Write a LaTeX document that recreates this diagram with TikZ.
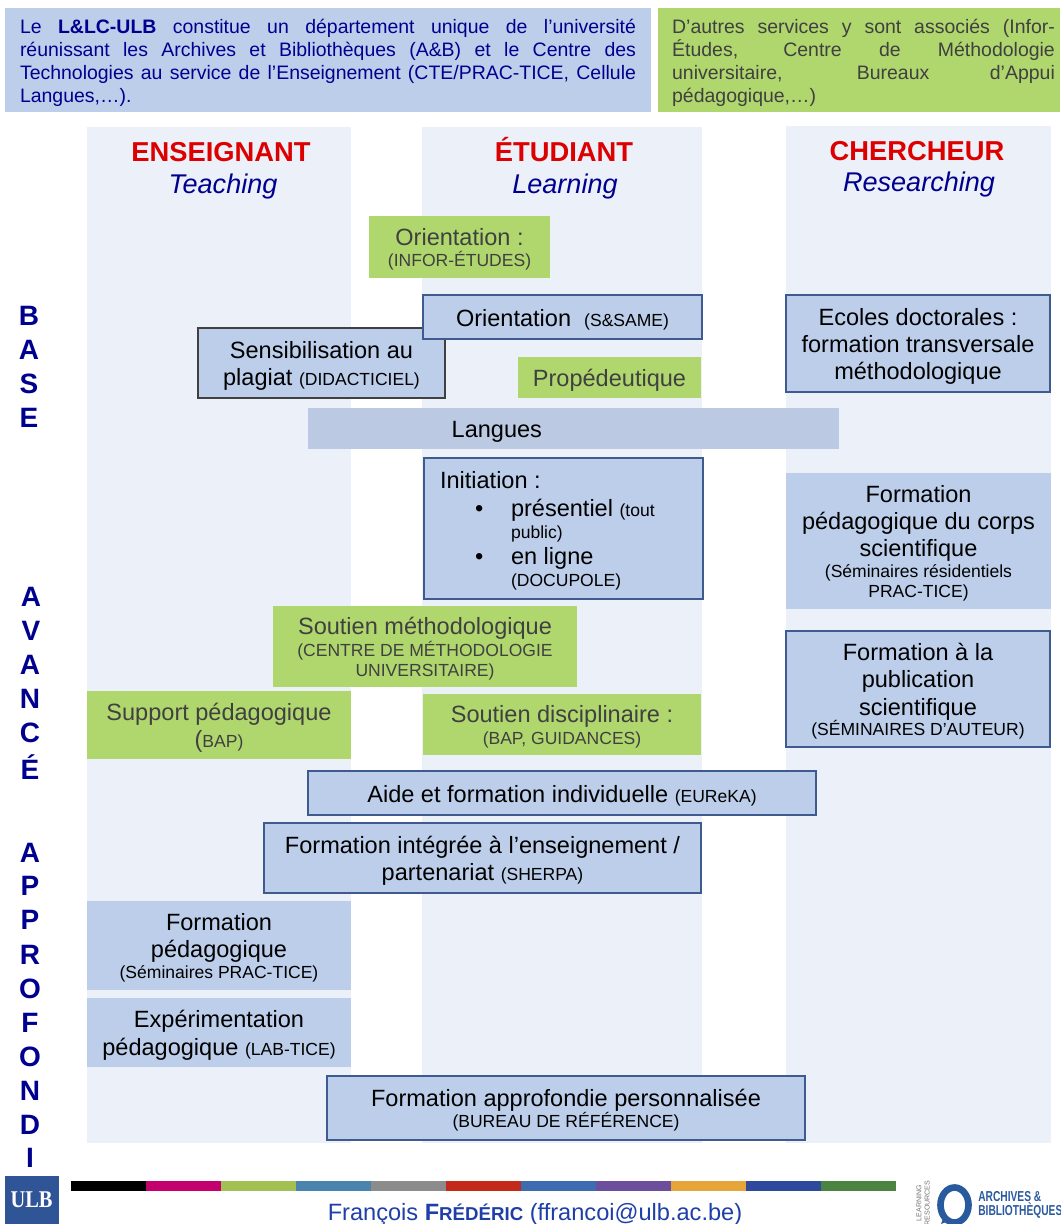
\documentclass[tikz,border=0pt]{standalone}
\usepackage{fontspec}
\usepackage{graphicx}
\setmainfont{Liberation Sans}
\newfontfamily\narrowsans[FakeStretch=0.71]{Liberation Sans}
\newfontfamily\narrowserif[FakeStretch=0.85]{Liberation Serif}
\definecolor{colbg}{HTML}{ECF0F8}
\definecolor{bluefill}{HTML}{BCCEEA}
\definecolor{langfill}{HTML}{BBCAE2}
\definecolor{greenfill}{HTML}{B0D66E}
\definecolor{edgeblue}{HTML}{3F5A8F}
\definecolor{navy}{HTML}{00008F}
\definecolor{headred}{HTML}{DD0000}
\definecolor{greytext}{HTML}{404040}
\definecolor{footblue}{HTML}{1F3FA8}
\definecolor{logoblue}{HTML}{2A5A9E}
\definecolor{ulbblue}{HTML}{2F5597}
\newcommand\bigf{\fontsize{17.65}{20.4}\selectfont}
\newcommand\smf[1]{{\fontsize{13.15}{15}\selectfont #1}}
\newcommand\jl[2]{\hbox to #1{#2}}
\newcommand\bx[7]{%
  \pgfmathsetmacro\bxw{(#5-#3)*0.75}%
  \pgfmathsetmacro\bxh{(#6-#4)*0.75}%
  \node[#1,minimum width=\bxw pt,minimum height=\bxh pt] (#2) at ({(#3+#5)/2},{(#4+#6)/2}) {\rule{0pt}{17.3pt}#7\rule[-3.7pt]{0pt}{0pt}};}
\tikzset{
  base/.style={inner sep=0pt,outer sep=0pt,align=center,font=\bigf,text=black},
  plainblue/.style={base,fill=bluefill},
  edgedthin/.style={base,fill=bluefill,draw=edgeblue,line width=1.2pt},
  edgedthick/.style={base,fill=bluefill,draw=edgeblue,line width=2.1pt},
  edgedgrey/.style={base,fill=bluefill,draw=black!75,line width=1.3pt},
  greenbox/.style={base,fill=greenfill,text=greytext},
  colband/.style={fill=colbg,draw=none,inner sep=0pt,outer sep=0pt},
  headname/.style={font=\fontsize{20.5}{24}\selectfont\bfseries,text=headred,inner sep=0pt,anchor=base},
  headsub/.style={font=\fontsize{20.3}{24}\selectfont\itshape,text=navy,inner sep=0pt},
  sideletter/.style={font=\fontsize{21}{24}\selectfont\bfseries,text=navy,inner sep=0pt},
  intro/.style={inner sep=0pt,font=\fontsize{14.6}{17.2}\selectfont,text width=#1,align=flush left}
}
\begin{document}
\begin{tikzpicture}[x=0.75pt,y=-0.75pt]
\useasboundingbox (0,0) rectangle (1060,1224);
% column bands
\bx{colband}{colA}{87}{127}{351}{1143}{}
\bx{colband}{colB}{422}{127}{702}{1143}{}
\bx{colband}{colC}{786}{126}{1051}{1143}{}
% intro boxes
\bx{base,fill=bluefill,text=navy}{introblue}{5}{8}{651}{112}{}
\bx{base,fill=greenfill}{introgreen}{658}{8}{1060}{112}{}
\node[intro=462pt,text=navy,anchor=center] (introbluetext) at (328,63) {%
\jl{462pt}{Le \textbf{L\&LC-ULB} constitue un département unique de l’université}
\jl{462pt}{réunissant les Archives et Bibliothèques (A\&B) et le Centre des}
\jl{462pt}{Technologies au service de l’Enseignement (CTE/PRAC-TICE, Cellule}
\hbox{Langues,…).}};
\node[intro=287pt,text=greytext,anchor=center] (introgreentext) at (863.5,63) {%
\jl{287pt}{D’autres services y sont associés (Infor-}
\jl{287pt}{Études, Centre de Méthodologie}
\jl{287pt}{universitaire, Bureaux d’Appui}
\hbox{pédagogique,…)}};
% headings
\node[headname] (hA) at (221,161) {ENSEIGNANT};
\node[headsub] (hAs) at (223,186) {Teaching};
\node[headname] (hB) at (564,161) {ÉTUDIANT};
\node[headsub] (hBs) at (565,186) {Learning};
\node[headname] (hC) at (917,160) {CHERCHEUR};
\node[headsub] (hCs) at (919,184) {Researching};
% side letters
\node[sideletter] (s1) at (29,316) {B};
\node[sideletter] (s2) at (29,350) {A};
\node[sideletter] (s3) at (29,384) {S};
\node[sideletter] (s4) at (29,418) {E};
\node[sideletter] (a1) at (31,597) {A};
\node[sideletter] (a2) at (31,631) {V};
\node[sideletter] (a3) at (30,665) {A};
\node[sideletter] (a4) at (30,699) {N};
\node[sideletter] (a5) at (30,733) {C};
\node[sideletter] (a6) at (30,767) {É};
\node[sideletter] (p1) at (30,853) {A};
\node[sideletter] (p2) at (30,886) {P};
\node[sideletter] (p3) at (30,920) {P};
\node[sideletter] (p4) at (30,955) {R};
\node[sideletter] (p5) at (30,989) {O};
\node[sideletter] (p6) at (30,1023) {F};
\node[sideletter] (p7) at (30,1057) {O};
\node[sideletter] (p8) at (30,1091) {N};
\node[sideletter] (p9) at (30,1125) {D};
\node[sideletter] (p10) at (30,1158) {I};
% boxes
\bx{greenbox}{orientA}{369}{216}{550}{278}{Orientation :\\[-5pt]\smf{(INFOR-ÉTUDES)}}
\bx{edgedgrey}{plagiat}{198}{328}{445}{398}{Sensibilisation au\\plagiat \smf{(DIDACTICIEL)}}
\bx{edgedthick}{orientB}{423}{295}{702}{339}{Orientation\ \ \smf{(S\&SAME)}}
\bx{greenbox}{proped}{518}{357}{701}{398}{Propédeutique}
\bx{base,fill=langfill}{langues}{308}{408}{839}{449}{\hspace*{-115pt}Langues}
\bx{edgedthin}{ecoles}{786}{295}{1050}{392}{Ecoles doctorales :\\formation transversale\\méthodologique}
\bx{edgedthin}{initiation}{424}{458}{703}{599}{}
\node[base,align=left,anchor=north west] (initText) at (440,471) {Initiation :\\[0.6pt]
\hspace*{26.3pt}•\hspace*{20.8pt}présentiel \smf{(tout}\\[-3.4pt]
\hspace*{53.3pt}\smf{public)}\\[-1.4pt]
\hspace*{26.3pt}•\hspace*{20.8pt}en ligne\\[-3.4pt]
\hspace*{53.3pt}\smf{(DOCUPOLE)}};
\bx{plainblue}{corps}{786}{473}{1051}{609}{Formation\\pédagogique du corps\\scientifique\\[-5pt]\smf{(Séminaires résidentiels}\\[-5pt]\smf{PRAC-TICE)}}
\bx{edgedthin}{publi}{786}{631}{1050}{747}{Formation à la\\publication\\scientifique\\[-5pt]\smf{(SÉMINAIRES D’AUTEUR)}}
\bx{greenbox}{soutienM}{273}{606}{577}{687}{Soutien méthodologique\\[-4pt]\smf{(CENTRE DE MÉTHODOLOGIE}\\[-5.5pt]\smf{UNIVERSITAIRE)}}
\bx{greenbox}{supportP}{87}{691}{351}{759}{Support pédagogique\\(\smf{BAP)}}
\bx{greenbox}{soutienD}{423}{694}{701}{755}{Soutien disciplinaire :\\[-4pt]\smf{(BAP, GUIDANCES)}}
\bx{edgedthick}{aide}{308}{771}{816}{815}{Aide et formation individuelle \smf{(EUReKA)}}
\bx{edgedthick}{integree}{264}{823}{701}{893}{Formation intégrée à l’enseignement /\\partenariat \smf{(SHERPA)}}
\bx{plainblue}{formP}{87}{901}{351}{990}{Formation\\pédagogique\\[-5pt]\smf{(Séminaires PRAC-TICE)}}
\bx{plainblue}{experi}{87}{998}{351}{1067}{Expérimentation\\pédagogique \smf{(LAB-TICE)}}
\bx{edgedthin}{approf}{327}{1076}{805}{1140}{Formation approfondie personnalisée\\[-5pt]\smf{(BUREAU DE RÉFÉRENCE)}}
% footer
\node[fill=ulbblue,inner sep=0pt,outer sep=0pt,minimum width=40.5pt,minimum height=36pt,text=white,font=\narrowserif\bfseries\fontsize{18}{20}\selectfont] (ulb) at (31.5,1200) {\raisebox{-3.8pt}{ULB}};
\foreach \c [count=\i from 0] in {000000,C4006E,A2C152,4A84AE,8C8C8C,C42A1A,3D6CB0,6B4F9C,E5A538,2F4A9C,4A8440}{
  \definecolor{seg}{HTML}{\c}
  \fill[seg] ({71+75*\i},1181) rectangle ({71+75*(\i+1)},1191);
}
\node[inner sep=0pt,text=footblue,font=\fontsize{17.7}{20}\selectfont] (author) at (535,1214) {François \textbf{F{\fontsize{14}{20}\selectfont RÉDÉRIC}} (ffrancoi@ulb.ac.be)};
\draw[logoblue,line width=5pt] (954.5,1205) ellipse [x radius=14,y radius=17.5];
\fill[logoblue] (944,1216) -- (941,1224) -- (951,1220) -- cycle;
\node[inner sep=0pt,rotate=90,align=center,text=black!55,font=\fontsize{5.3}{6.2}\selectfont] (lr) at (923,1203) {LEARNING\\RESOURCES};
\node[inner sep=0pt,anchor=west,align=left,text=logoblue,font=\narrowsans\bfseries\fontsize{10.8}{10}\selectfont] (ab) at (978,1205) {ARCHIVES \&\\BIBLIOTHÈQUES};
\end{tikzpicture}
\end{document}
